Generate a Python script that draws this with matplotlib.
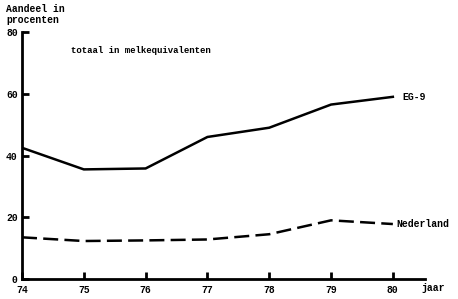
import matplotlib.pyplot as plt
import numpy as np

jaar = [74, 75, 76, 77, 78, 79, 80]
eg9 = [42.5, 35.5, 35.8, 46, 49, 56.5, 59]
nederland = [13.5, 12.3, 12.5, 12.8, 14.5, 19, 17.8]
yticks = [0, 20, 40, 60, 80]

fnt = dict(family='Liberation Mono', weight='bold')

fig = plt.figure(figsize=(4.58, 2.99), dpi=100)
ax = fig.add_axes([22 / 458, 1 - 279 / 299, (425 - 22) / 458, (279 - 32) / 299])

ax.plot(jaar, eg9, color='black', lw=1.8)
ax.plot(jaar, nederland, color='black', lw=1.8, dashes=(6, 2.5))

ax.set_xlim(74, 80.52)
ax.set_ylim(0, 80)
ax.spines['top'].set_visible(False)
ax.spines['right'].set_visible(False)
ax.spines['left'].set_linewidth(2)
ax.spines['bottom'].set_linewidth(2)

ax.set_xticks(jaar)
ax.set_xticklabels([str(j) for j in jaar], fontsize=7, **fnt)
ax.set_yticks(yticks)
ax.set_yticklabels([str(v) for v in yticks], fontsize=7, **fnt)
ax.tick_params(axis='both', direction='in', length=5, width=2)
ax.tick_params(axis='x', pad=4)
ax.tick_params(axis='y', pad=3)

ax.text(80.15, 59, 'EG-9', fontsize=7, va='center', ha='left', **fnt)
ax.text(80.05, 17.8, 'Nederland', fontsize=7, va='center', ha='left', **fnt)
ax.text(74.8, 74, 'totaal in melkequivalenten', fontsize=6.5, va='center', ha='left', **fnt)
fig.text(6 / 458, 1 - 4 / 299, 'Aandeel in\nprocenten', fontsize=7, va='top', ha='left',
         linespacing=1.1, **fnt)
fig.text(421 / 458, 1 - 288 / 299, 'jaar', fontsize=7, va='center', ha='left', **fnt)

fig.savefig('out.png', dpi=100)
